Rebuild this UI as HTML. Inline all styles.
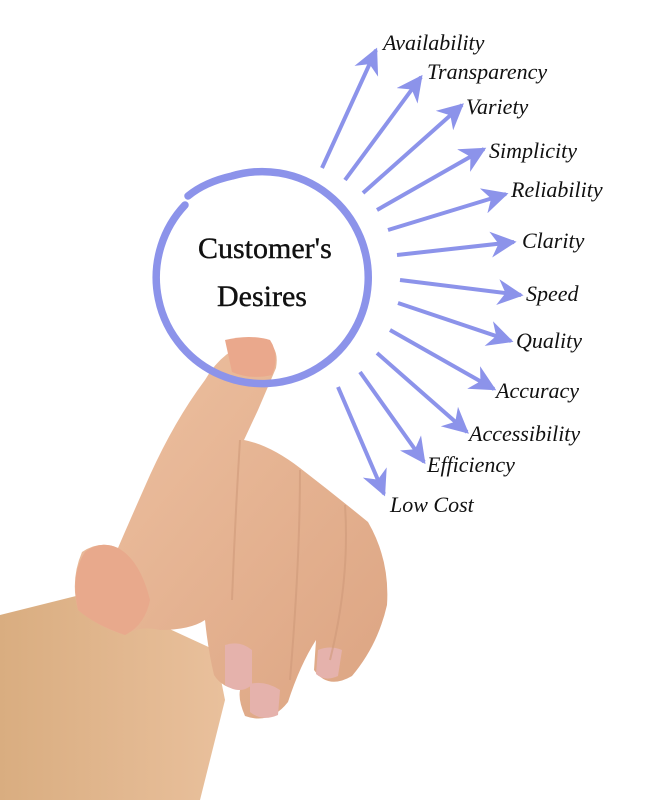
<!DOCTYPE html>
<html><head><meta charset="utf-8"><style>
html,body{margin:0;padding:0;background:#fff;}
svg{display:block}
.l{font-family:"Liberation Serif",serif;font-style:italic;font-size:22px;fill:#111}
.c{font-family:"Liberation Serif",serif;font-size:30px;fill:#111;stroke:#111;stroke-width:0.4}
</style></head><body>
<svg width="664" height="800" viewBox="0 0 664 800" xmlns="http://www.w3.org/2000/svg">
<defs>
<marker id="a" viewBox="0 0 10 10" refX="9" refY="5" markerWidth="6.5" markerHeight="6.5" orient="auto" markerUnits="strokeWidth">
<path d="M0,0 L10,5 L0,10 L3,5 z" fill="#8c93ea"/></marker>
<linearGradient id="sk" x1="0" y1="0" x2="1" y2="1">
<stop offset="0" stop-color="#eec2a2"/><stop offset="1" stop-color="#dca482"/></linearGradient>
<linearGradient id="arm" x1="0" y1="0" x2="1" y2="0">
<stop offset="0" stop-color="#d9ad80"/><stop offset="1" stop-color="#e9c09c"/></linearGradient>
</defs>
<path d="M0,615 L80,595 L150,620 L215,650 L225,700 L215,740 L200,800 L0,800 Z" fill="url(#arm)"/>
<path d="M262,340 Q280,345 276,368 L258,410 L244,440 Q270,445 300,468 Q335,495 368,522 Q390,560 387,605 Q378,645 352,676 Q328,690 314,670 L316,640 Q300,665 288,702 Q270,725 245,716 Q238,700 240,690 Q222,688 214,675 Q208,650 205,620 Q190,630 160,630 Q140,625 125,635 Q100,628 78,610 Q70,580 82,552 Q100,540 118,548 Q130,520 150,475 Q175,420 205,380 Q225,345 262,340 Z" fill="url(#sk)"/>
<path d="M118,548 Q140,560 150,600 Q145,625 125,635 Q95,625 78,610 Q70,575 85,552 Q100,540 118,548 Z" fill="#e8a98c"/>
<path d="M225,340 Q250,334 270,340 Q280,355 272,375 Q250,380 232,372 Z" fill="#eaa88c"/>
<path d="M225,645 Q240,640 252,650 L252,685 Q240,695 225,685 Z" fill="#e5b2ac"/>
<path d="M250,684 Q265,680 280,690 L278,715 Q262,722 250,712 Z" fill="#e5b2ac"/>
<path d="M318,650 Q330,645 342,650 L338,676 Q325,682 316,674 Z" fill="#e5b2ac"/>
<path d="M240,440 Q235,520 232,600 M300,470 Q300,560 290,680 M345,505 Q350,580 330,660" stroke="#cf9a7a" stroke-width="2" fill="none" opacity=".6"/>
<path d="M188,196 Q205,182 232,176 A106,106 0 1 1 185,205" fill="none" stroke="#8c93ea" stroke-width="7.5" stroke-linecap="round"/>
<text class="c" x="198" y="258">Customer's</text>
<text class="c" x="217" y="306">Desires</text>
<g stroke="#8c93ea" stroke-width="4" fill="none" marker-end="url(#a)">
<line x1="322" y1="168" x2="376" y2="50"/>
<line x1="345" y1="180" x2="421" y2="77"/>
<line x1="363" y1="193" x2="462" y2="105"/>
<line x1="377" y1="210" x2="484" y2="149"/>
<line x1="388" y1="230" x2="506" y2="194"/>
<line x1="397" y1="255" x2="514" y2="242"/>
<line x1="400" y1="280" x2="521" y2="295"/>
<line x1="398" y1="303" x2="511" y2="341"/>
<line x1="390" y1="330" x2="494" y2="389"/>
<line x1="377" y1="353" x2="467" y2="432"/>
<line x1="360" y1="372" x2="424" y2="462"/>
<line x1="338" y1="387" x2="384" y2="494"/>
</g>
<text class="l" x="383" y="50">Availability</text>
<text class="l" x="427" y="79">Transparency</text>
<text class="l" x="466" y="114">Variety</text>
<text class="l" x="489" y="158">Simplicity</text>
<text class="l" x="511" y="197">Reliability</text>
<text class="l" x="522" y="248">Clarity</text>
<text class="l" x="526" y="301">Speed</text>
<text class="l" x="516" y="348">Quality</text>
<text class="l" x="496" y="398">Accuracy</text>
<text class="l" x="469" y="441">Accessibility</text>
<text class="l" x="427" y="472">Efficiency</text>
<text class="l" x="390" y="512">Low Cost</text>
</svg>
</body></html>
